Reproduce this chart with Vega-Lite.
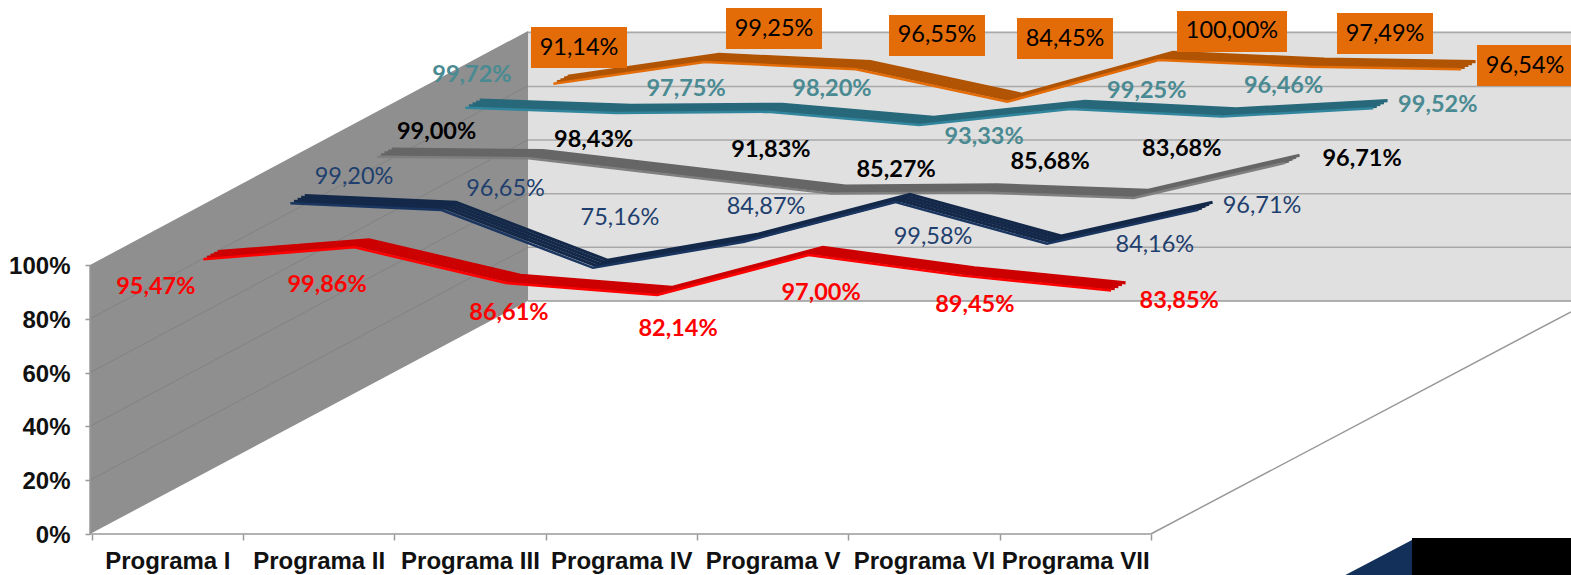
{"$schema":"https://vega.github.io/schema/vega-lite/v6.json","width":1481,"height":534,"autosize":"none","padding":{"left":90,"right":0,"top":0,"bottom":41},"background":"white","config":{"view":{"stroke":null},"style":{"faixa":{"strokeCap":"butt","strokeJoin":"miter","clip":false},"rotulo":{"font":"Lato","fontSize":23.5,"align":"center","baseline":"middle","yOffset":2}}},
"datasets":{
"series":[
{"programa":"Programa I","ordem":1,"serie":"S1","valor":95.47,"rotulo":"95,47%"},{"programa":"Programa II","ordem":2,"serie":"S1","valor":99.86,"rotulo":"99,86%"},{"programa":"Programa III","ordem":3,"serie":"S1","valor":86.61,"rotulo":"86,61%"},{"programa":"Programa IV","ordem":4,"serie":"S1","valor":82.14,"rotulo":"82,14%"},{"programa":"Programa V","ordem":5,"serie":"S1","valor":97.0,"rotulo":"97,00%"},{"programa":"Programa VI","ordem":6,"serie":"S1","valor":89.45,"rotulo":"89,45%"},{"programa":"Programa VII","ordem":7,"serie":"S1","valor":83.85,"rotulo":"83,85%"},
{"programa":"Programa I","ordem":1,"serie":"S2","valor":99.2,"rotulo":"99,20%"},{"programa":"Programa II","ordem":2,"serie":"S2","valor":96.65,"rotulo":"96,65%"},{"programa":"Programa III","ordem":3,"serie":"S2","valor":75.16,"rotulo":"75,16%"},{"programa":"Programa IV","ordem":4,"serie":"S2","valor":84.87,"rotulo":"84,87%"},{"programa":"Programa V","ordem":5,"serie":"S2","valor":99.58,"rotulo":"99,58%"},{"programa":"Programa VI","ordem":6,"serie":"S2","valor":84.16,"rotulo":"84,16%"},{"programa":"Programa VII","ordem":7,"serie":"S2","valor":96.71,"rotulo":"96,71%"},
{"programa":"Programa I","ordem":1,"serie":"S3","valor":99.0,"rotulo":"99,00%"},{"programa":"Programa II","ordem":2,"serie":"S3","valor":98.43,"rotulo":"98,43%"},{"programa":"Programa III","ordem":3,"serie":"S3","valor":91.83,"rotulo":"91,83%"},{"programa":"Programa IV","ordem":4,"serie":"S3","valor":85.27,"rotulo":"85,27%"},{"programa":"Programa V","ordem":5,"serie":"S3","valor":85.68,"rotulo":"85,68%"},{"programa":"Programa VI","ordem":6,"serie":"S3","valor":83.68,"rotulo":"83,68%"},{"programa":"Programa VII","ordem":7,"serie":"S3","valor":96.71,"rotulo":"96,71%"},
{"programa":"Programa I","ordem":1,"serie":"S4","valor":99.72,"rotulo":"99,72%"},{"programa":"Programa II","ordem":2,"serie":"S4","valor":97.75,"rotulo":"97,75%"},{"programa":"Programa III","ordem":3,"serie":"S4","valor":98.2,"rotulo":"98,20%"},{"programa":"Programa IV","ordem":4,"serie":"S4","valor":93.33,"rotulo":"93,33%"},{"programa":"Programa V","ordem":5,"serie":"S4","valor":99.25,"rotulo":"99,25%"},{"programa":"Programa VI","ordem":6,"serie":"S4","valor":96.46,"rotulo":"96,46%"},{"programa":"Programa VII","ordem":7,"serie":"S4","valor":99.52,"rotulo":"99,52%"},
{"programa":"Programa I","ordem":1,"serie":"S5","valor":91.14,"rotulo":"91,14%"},{"programa":"Programa II","ordem":2,"serie":"S5","valor":99.25,"rotulo":"99,25%"},{"programa":"Programa III","ordem":3,"serie":"S5","valor":96.55,"rotulo":"96,55%"},{"programa":"Programa IV","ordem":4,"serie":"S5","valor":84.45,"rotulo":"84,45%"},{"programa":"Programa V","ordem":5,"serie":"S5","valor":100.0,"rotulo":"100,00%"},{"programa":"Programa VI","ordem":6,"serie":"S5","valor":97.49,"rotulo":"97,49%"},{"programa":"Programa VII","ordem":7,"serie":"S5","valor":96.54,"rotulo":"96,54%"}
],
"fundo":[{"ordem":3.3837,"valor":86.6,"valor2":187},{"ordem":10.2771,"valor":86.6,"valor2":187}],
"lateral":[{"ordem":0.4888,"valor":0,"valor2":100},{"ordem":3.3837,"valor":86.6,"valor2":187}],
"grade":[
{"ordem":3.3837,"ordem2":10.2771,"valor":106.6,"valor2":106.6},{"ordem":3.3837,"ordem2":10.2771,"valor":126.5,"valor2":126.5},{"ordem":3.3837,"ordem2":10.2771,"valor":146.5,"valor2":146.5},{"ordem":3.3837,"ordem2":10.2771,"valor":166.4,"valor2":166.4},{"ordem":3.3837,"ordem2":10.2771,"valor":186.4,"valor2":186.4}],
"gradeLateral":[
{"ordem":0.4888,"ordem2":3.3837,"valor":20,"valor2":106.6},{"ordem":0.4888,"ordem2":3.3837,"valor":40,"valor2":126.6},{"ordem":0.4888,"ordem2":3.3837,"valor":60,"valor2":146.6},{"ordem":0.4888,"ordem2":3.3837,"valor":80,"valor2":166.6}],
"bordas":[
{"ordem":0.4888,"ordem2":7.5,"valor":0,"valor2":0},{"ordem":7.5,"ordem2":10.2771,"valor":0,"valor2":82.6},{"ordem":0.4888,"ordem2":0.4888,"valor":0,"valor2":100},{"ordem":3.3837,"ordem2":10.2771,"valor":86.6,"valor2":86.6}],
"logoPreto":[{"ordem":9.2262,"ordem2":10.2771,"valor":-1.49,"valor2":-15.3}],
"logoAzul":[{"ordem":8.784,"valor":-15.3,"valor2":-15.3},{"ordem":9.2262,"valor":-15.3,"valor2":-2.2}]
},
"encoding":{
"x":{"field":"ordem","type":"quantitative","scale":{"domain":[0.4888,10.2771],"nice":false,"zero":false},"axis":{"values":[0.5,1.5,2.5,3.5,4.5,5.5,6.5,7.5],"title":null,"grid":false,"domain":false,"labelExpr":"['Programa I','Programa II','Programa III','Programa IV','Programa V','Programa VI','Programa VII',''][datum.value-0.5]","labelOffset":75.65,"labelFont":"Liberation Sans","labelFontWeight":"bold","labelFontSize":24,"labelColor":"#111111","labelPadding":9,"tickColor":"#999999","tickWidth":1.5,"tickSize":6,"labelOverlap":false,"labelBound":false,"labelFlush":false}},
"y":{"field":"valor","type":"quantitative","scale":{"domain":[0,198.51],"nice":false,"zero":false},"axis":{"values":[0,20,40,60,80,100],"title":null,"grid":false,"domain":false,"labelExpr":"datum.value+'%'","labelFont":"Liberation Sans","labelFontWeight":"bold","labelFontSize":24,"labelColor":"#111111","labelPadding":15,"labelOffset":1.5,"tickColor":"#999999","tickWidth":1.5,"tickSize":5,"labelOverlap":false,"labelBound":false}}
},
"layer":[
{"data":{"name":"fundo"},"mark":{"type":"area","color":"#e0e0e0"},"encoding":{"y2":{"field":"valor2"}}},
{"data":{"name":"grade"},"mark":{"type":"rule","color":"#a9a9a9","strokeWidth":1.5},"encoding":{"x2":{"field":"ordem2"},"y2":{"field":"valor2"}}},
{"data":{"name":"lateral"},"mark":{"type":"area","color":"#8f8f8f"},"encoding":{"y2":{"field":"valor2"}}},
{"data":{"name":"gradeLateral"},"mark":{"type":"rule","color":"#828282","strokeWidth":1},"encoding":{"x2":{"field":"ordem2"},"y2":{"field":"valor2"}}},
{"data":{"name":"bordas"},"mark":{"type":"rule","color":"#999999","strokeWidth":1.5},"encoding":{"x2":{"field":"ordem2"},"y2":{"field":"valor2"}}},
{"data":{"name":"logoAzul"},"mark":{"type":"area","color":"#12305a","clip":false},"encoding":{"y2":{"field":"valor2"}}},
{"data":{"name":"logoPreto"},"mark":{"type":"rect","color":"#000000","clip":false},"encoding":{"x2":{"field":"ordem2"},"y2":{"field":"valor2"}}},
{"data":{"name":"series"},"transform":[{"filter":"datum.serie==='S5'"}],"layer":[
{"mark":{"type":"line","style":"faixa","stroke":"#b05404","strokeWidth":3.2,"xOffset":400.4,"yOffset":-212.6}},
{"mark":{"type":"line","style":"faixa","stroke":"#b05404","strokeWidth":3.2,"xOffset":396.8,"yOffset":-210.7}},
{"mark":{"type":"line","style":"faixa","stroke":"#b05404","strokeWidth":3.2,"xOffset":393.2,"yOffset":-208.8}},
{"mark":{"type":"line","style":"faixa","stroke":"#b05404","strokeWidth":3.2,"xOffset":389.6,"yOffset":-206.9}},
{"mark":{"type":"line","style":"faixa","stroke":"#e36c09","strokeWidth":2.5,"xOffset":386,"yOffset":-205}}]},
{"data":{"name":"series"},"transform":[{"filter":"datum.serie==='S4'"}],"layer":[
{"mark":{"type":"line","style":"faixa","stroke":"#27687a","strokeWidth":3.2,"xOffset":312.4,"yOffset":-165.6}},
{"mark":{"type":"line","style":"faixa","stroke":"#27687a","strokeWidth":3.2,"xOffset":308.8,"yOffset":-163.7}},
{"mark":{"type":"line","style":"faixa","stroke":"#27687a","strokeWidth":3.2,"xOffset":305.2,"yOffset":-161.8}},
{"mark":{"type":"line","style":"faixa","stroke":"#27687a","strokeWidth":3.2,"xOffset":301.6,"yOffset":-159.9}},
{"mark":{"type":"line","style":"faixa","stroke":"#31859c","strokeWidth":2.5,"xOffset":298,"yOffset":-158}}]},
{"data":{"name":"series"},"transform":[{"filter":"datum.serie==='S3'"}],"layer":[
{"mark":{"type":"line","style":"faixa","stroke":"#666666","strokeWidth":3.2,"xOffset":224.4,"yOffset":-118.6}},
{"mark":{"type":"line","style":"faixa","stroke":"#666666","strokeWidth":3.2,"xOffset":220.8,"yOffset":-116.7}},
{"mark":{"type":"line","style":"faixa","stroke":"#666666","strokeWidth":3.2,"xOffset":217.2,"yOffset":-114.8}},
{"mark":{"type":"line","style":"faixa","stroke":"#666666","strokeWidth":3.2,"xOffset":213.6,"yOffset":-112.9}},
{"mark":{"type":"line","style":"faixa","stroke":"#7f7f7f","strokeWidth":2.5,"xOffset":210,"yOffset":-111}}]},
{"data":{"name":"series"},"transform":[{"filter":"datum.serie==='S2'"}],"layer":[
{"mark":{"type":"line","style":"faixa","stroke":"#14294a","strokeWidth":3.2,"xOffset":137.4,"yOffset":-71.6}},
{"mark":{"type":"line","style":"faixa","stroke":"#14294a","strokeWidth":3.2,"xOffset":133.8,"yOffset":-69.7}},
{"mark":{"type":"line","style":"faixa","stroke":"#14294a","strokeWidth":3.2,"xOffset":130.2,"yOffset":-67.8}},
{"mark":{"type":"line","style":"faixa","stroke":"#14294a","strokeWidth":3.2,"xOffset":126.6,"yOffset":-65.9}},
{"mark":{"type":"line","style":"faixa","stroke":"#1a3560","strokeWidth":2.5,"xOffset":123,"yOffset":-64}}]},
{"data":{"name":"series"},"transform":[{"filter":"datum.serie==='S1'"}],"layer":[
{"mark":{"type":"line","style":"faixa","stroke":"#cc0000","strokeWidth":3.2,"xOffset":50.4,"yOffset":-25.6}},
{"mark":{"type":"line","style":"faixa","stroke":"#cc0000","strokeWidth":3.2,"xOffset":46.8,"yOffset":-23.7}},
{"mark":{"type":"line","style":"faixa","stroke":"#cc0000","strokeWidth":3.2,"xOffset":43.2,"yOffset":-21.8}},
{"mark":{"type":"line","style":"faixa","stroke":"#cc0000","strokeWidth":3.2,"xOffset":39.6,"yOffset":-19.9}},
{"mark":{"type":"line","style":"faixa","stroke":"#ff0000","strokeWidth":2.5,"xOffset":36,"yOffset":-18}}]},
{"data":{"name":"series"},"transform":[{"filter":"datum.serie==='S5'"}],"layer":[
{"mark":{"type":"rect","color":"#e36c09","height":41,"width":{"expr":"datum.ordem===5?110:96"},"clip":false,"xOffset":{"expr":"[411.65,455.35,467.05,443.75,459.45,461.15,449.85][datum.ordem-1]"},"yOffset":{"expr":"[-241.3,-238.5,-238.8,-268.3,-233.5,-238.2,-208.8][datum.ordem-1]"}}},
{"mark":{"type":"text","style":"rotulo","color":"#000000","dx":{"expr":"[411.65,455.35,467.05,443.75,459.45,461.15,449.85][datum.ordem-1]"},"dy":{"expr":"[-241.3,-238.5,-238.8,-268.3,-233.5,-238.2,-208.8][datum.ordem-1]"}},"encoding":{"text":{"field":"rotulo"}}}]},
{"data":{"name":"series"},"transform":[{"filter":"datum.serie==='S4'"}],"mark":{"type":"text","style":"rotulo","fontWeight":"bold","color":"#4a8a92","dx":{"expr":"[304.6,367.4,362,362.8,374.2,359.7,362.6][datum.ordem-1]"},"dy":{"expr":"[-190.7,-182,-180.8,-145.9,-176,-188.5,-161.3][datum.ordem-1]"}},"encoding":{"text":{"field":"rotulo"}}},
{"data":{"name":"series"},"transform":[{"filter":"datum.serie==='S3'"}],"mark":{"type":"text","style":"rotulo","fontWeight":"bold","color":"#000000","dx":{"expr":"[269.2,275,301,274.8,277.5,257.9,286.9][datum.ordem-1]"},"dy":{"expr":"[-135.7,-129.2,-137,-134.6,-141.5,-159.9,-114.9][datum.ordem-1]"}},"encoding":{"text":{"field":"rotulo"}}},
{"data":{"name":"series"},"transform":[{"filter":"datum.serie==='S2'"}],"mark":{"type":"text","style":"rotulo","color":"#1f3f6e","dx":{"expr":"[186.7,186.9,150,144.8,160.5,231,186.9][datum.ordem-1]"},"dy":{"expr":"[-90.2,-85,-113.8,-98.2,-29,-62.6,-67.9][datum.ordem-1]"}},"encoding":{"text":{"field":"rotulo"}}},
{"data":{"name":"series"},"transform":[{"filter":"datum.serie==='S1'"}],"mark":{"type":"text","style":"rotulo","fontWeight":"bold","color":"#ff0000","dx":{"expr":"[-11.5,8.4,39,56.8,48.5,51,104][datum.ordem-1]"},"dy":{"expr":"[9.8,19.6,12,16,19.9,11.6,-7.4][datum.ordem-1]"}},"encoding":{"text":{"field":"rotulo"}}}
]}
